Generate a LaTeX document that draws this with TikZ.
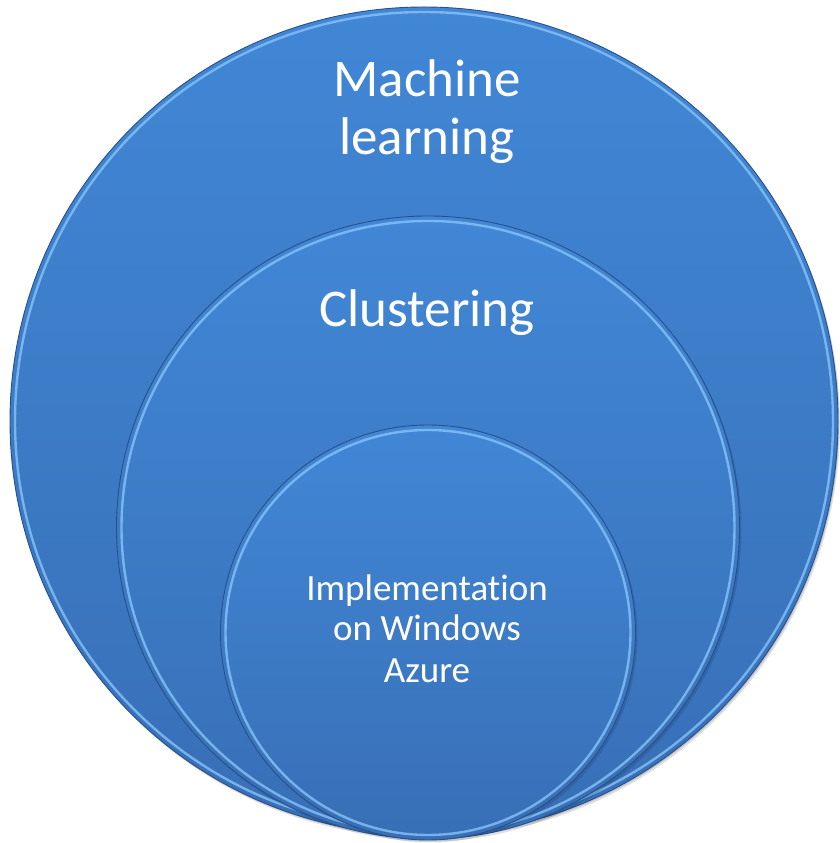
\documentclass[tikz,border=0pt]{standalone}
\usepackage{fontspec}
\setmainfont{Carlito}[RawFeature={-liga;-clig;-dlig}]
\definecolor{discTop}{RGB}{65,135,214}
\definecolor{discBot}{RGB}{56,111,182}
\definecolor{discEdge}{RGB}{40,80,138}
\definecolor{rimLight}{RGB}{135,195,248}
\begin{document}
\begin{tikzpicture}[x=1pt,y=1pt,
  disc/.style={circle, inner sep=0pt, draw=discEdge, line width=0.9pt, top color=discTop, bottom color=discBot},
  rim/.style={draw=rimLight, line width=2.4pt, opacity=0.8},
  shade/.style={fill=black, opacity=0.12},
  bigtext/.style={text=white, align=center, font=\fontsize{53}{58}\selectfont, anchor=base, inner sep=0pt},
  smalltext/.style={text=white, align=center, font=\fontsize{37}{41}\selectfont, anchor=base, inner sep=0pt}]
\useasboundingbox (0,0) rectangle (840,843);
% outer
\fill[shade] (426,419) circle (414);
\fill[shade] (425,420.5) circle (414);
\node[disc, minimum size=828pt] (outer) at (424,422) {};
\draw[rim] (outer.center) circle (409);
% middle
\fill[shade] (430,313) circle (311.5);
\node[disc, minimum size=623pt] (middle) at (428,315.5) {};
\draw[rim] (middle.center) circle (306.5);
% inner
\fill[shade] (430,208) circle (207.5);
\node[disc, minimum size=415pt] (inner) at (428,210.5) {};
\draw[rim] (inner.center) circle (202.5);
% texts
\node[bigtext] (ml1) at (427,746) {Machine};
\node[bigtext] (ml2) at (427,688) {learning};
\node[bigtext] (cl) at (427,516) {Clustering};
\node[smalltext] (im1) at (427,242) {Implementation};
\node[smalltext] (im2) at (427,202) {on Windows};
\node[smalltext] (im3) at (427,160) {Azure};
\end{tikzpicture}
\end{document}
